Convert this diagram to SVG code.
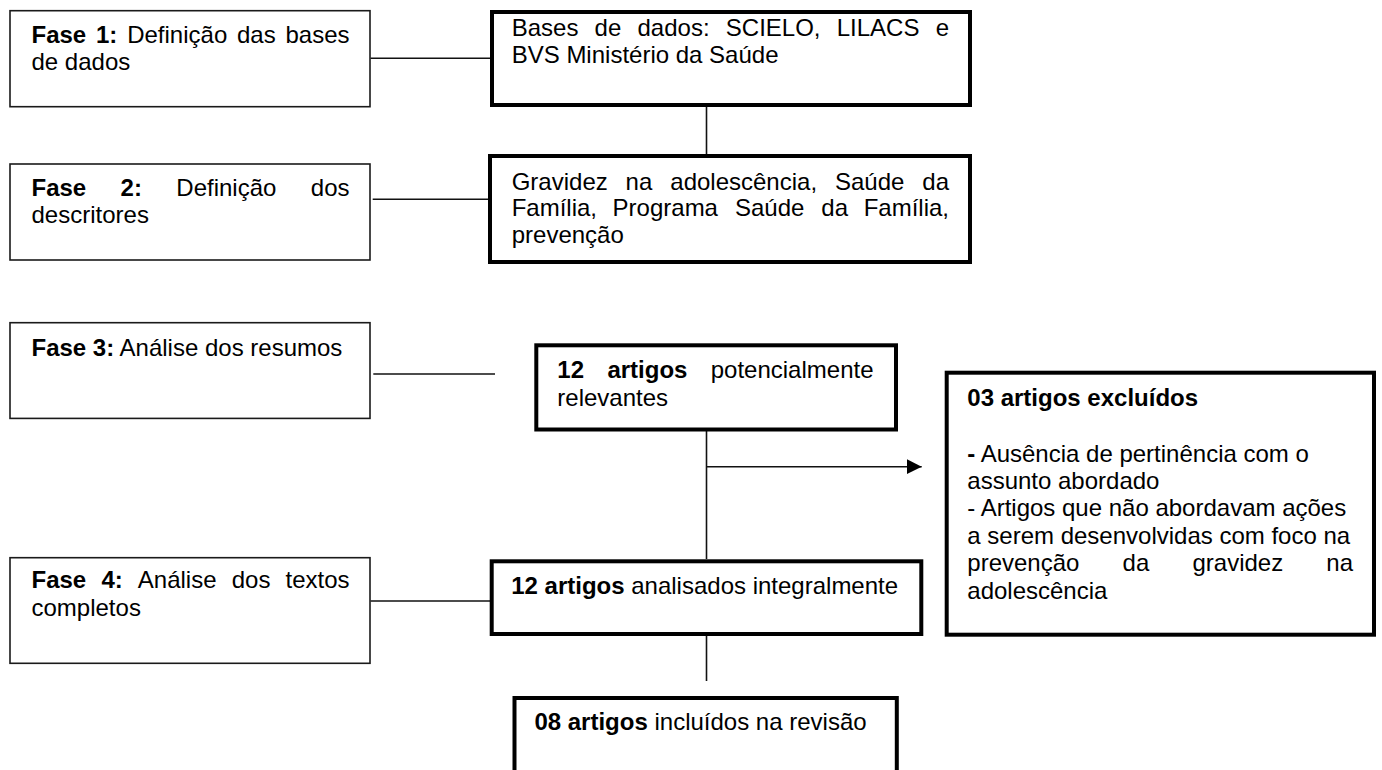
<svg xmlns="http://www.w3.org/2000/svg" width="1382" height="770" viewBox="0 0 1382 770">
<style>
text{font-family:"Liberation Sans",Arial,sans-serif;font-size:24px;fill:#000}
.b{font-weight:bold}
.thin{fill:#fff;stroke:#1a1a1a;stroke-width:1.6}
.thick{fill:#fff;stroke:#000;stroke-width:4}
.ln{stroke:#111;stroke-width:1.6;fill:none}
</style>
<defs>
<marker id="ah" markerWidth="16" markerHeight="16" refX="15" refY="8" orient="auto" markerUnits="userSpaceOnUse">
<path d="M0,0.5 L15,8 L0,15.5 Z" fill="#000"/>
</marker>
</defs>
<rect x="0" y="0" width="1382" height="770" fill="#fff"/>

<g id="connectors">
<line class="ln" x1="370.5" y1="58.3" x2="490" y2="58.3"/>
<line class="ln" x1="372.7" y1="199.3" x2="495" y2="199.3"/>
<line class="ln" x1="373.3" y1="374" x2="495" y2="374"/>
<line class="ln" x1="370.5" y1="601" x2="492" y2="601"/>
<line class="ln" x1="706.5" y1="107" x2="706.5" y2="154"/>
<line class="ln" x1="706.5" y1="431" x2="706.5" y2="559"/>
<line class="ln" x1="706.5" y1="466.7" x2="921.7" y2="466.7" marker-end="url(#ah)"/>
<line class="ln" x1="706.5" y1="629" x2="706.5" y2="681"/>
</g>

<g id="fase1">
<rect class="thin" x="10" y="10.7" width="360" height="96"/>
<text y="42.5"><tspan class="b" x="31.5">Fase</tspan><tspan class="b" x="96">1:</tspan><tspan x="127.2">Definição</tspan><tspan x="237">das</tspan><tspan x="349.5" text-anchor="end">bases</tspan></text>
<text x="31.5" y="70.1">de dados</text>
</g>

<g id="bases">
<rect class="thick" x="492" y="12" width="478" height="93"/>
<text y="36"><tspan x="511.7">Bases</tspan><tspan x="594.6">de</tspan><tspan x="637.5">dados:</tspan><tspan x="725.8">SCIELO,</tspan><tspan x="836.7">LILACS</tspan><tspan x="949" text-anchor="end">e</tspan></text>
<text x="511.7" y="63.3">BVS Ministério da Saúde</text>
</g>

<g id="fase2">
<rect class="thin" x="10" y="164" width="360" height="96"/>
<text y="195.7"><tspan class="b" x="31.5">Fase</tspan><tspan class="b" x="120.6">2:</tspan><tspan x="176.3">Definição</tspan><tspan x="349.5" text-anchor="end">dos</tspan></text>
<text x="31.5" y="223.3">descritores</text>
</g>

<g id="descritores">
<rect class="thick" x="490" y="156" width="480" height="106"/>
<text y="189.5"><tspan x="511.7">Gravidez</tspan><tspan x="625.6">na</tspan><tspan x="670.3">adolescência,</tspan><tspan x="835">Saúde</tspan><tspan x="949" text-anchor="end">da</tspan></text>
<text y="216"><tspan x="511.7">Família,</tspan><tspan x="612.6">Programa</tspan><tspan x="735">Saúde</tspan><tspan x="821.3">da</tspan><tspan x="949" text-anchor="end">Família,</tspan></text>
<text x="511.7" y="242.5">prevenção</text>
</g>

<g id="fase3">
<rect class="thin" x="10" y="322.7" width="360" height="95.7"/>
<text x="31.5" y="356"><tspan class="b">Fase 3:</tspan> Análise dos resumos</text>
</g>

<g id="potenciais">
<rect class="thick" x="536.3" y="345.3" width="359.7" height="84.2"/>
<text y="378.3"><tspan class="b" x="557.3">12</tspan><tspan class="b" x="607.4">artigos</tspan><tspan x="873.5" text-anchor="end">potencialmente</tspan></text>
<text x="557.3" y="406">relevantes</text>
</g>

<g id="excluidos">
<rect class="thick" x="946.7" y="372.7" width="427.3" height="262"/>
<text class="b" x="967.3" y="406">03 artigos excluídos</text>
<text x="967.3" y="461.5"><tspan class="b">-</tspan> Ausência de pertinência com o</text>
<text x="967.3" y="488.8">assunto abordado</text>
<text x="967.3" y="516.2">- Artigos que não abordavam ações</text>
<text x="967.3" y="543.6">a serem desenvolvidas com foco na</text>
<text y="571"><tspan x="967.3">prevenção</tspan><tspan x="1122.6">da</tspan><tspan x="1192.5">gravidez</tspan><tspan x="1353" text-anchor="end">na</tspan></text>
<text x="967.3" y="598.5">adolescência</text>
</g>

<g id="fase4">
<rect class="thin" x="10" y="557.7" width="360" height="105.6"/>
<text y="588.3"><tspan class="b" x="31.5">Fase</tspan><tspan class="b" x="101.4">4:</tspan><tspan x="137.8">Análise</tspan><tspan x="231.7">dos</tspan><tspan x="349.5" text-anchor="end">textos</tspan></text>
<text x="31.5" y="616">completos</text>
</g>

<g id="analisados">
<rect class="thick" x="491.7" y="561.3" width="429.6" height="72.7"/>
<text x="511.2" y="594"><tspan class="b">12 artigos</tspan> analisados integralmente</text>
</g>

<g id="incluidos">
<rect class="thick" x="514.5" y="698" width="382.3" height="100"/>
<text x="534.4" y="730"><tspan class="b">08 artigos</tspan> incluídos na revisão</text>
</g>
</svg>
